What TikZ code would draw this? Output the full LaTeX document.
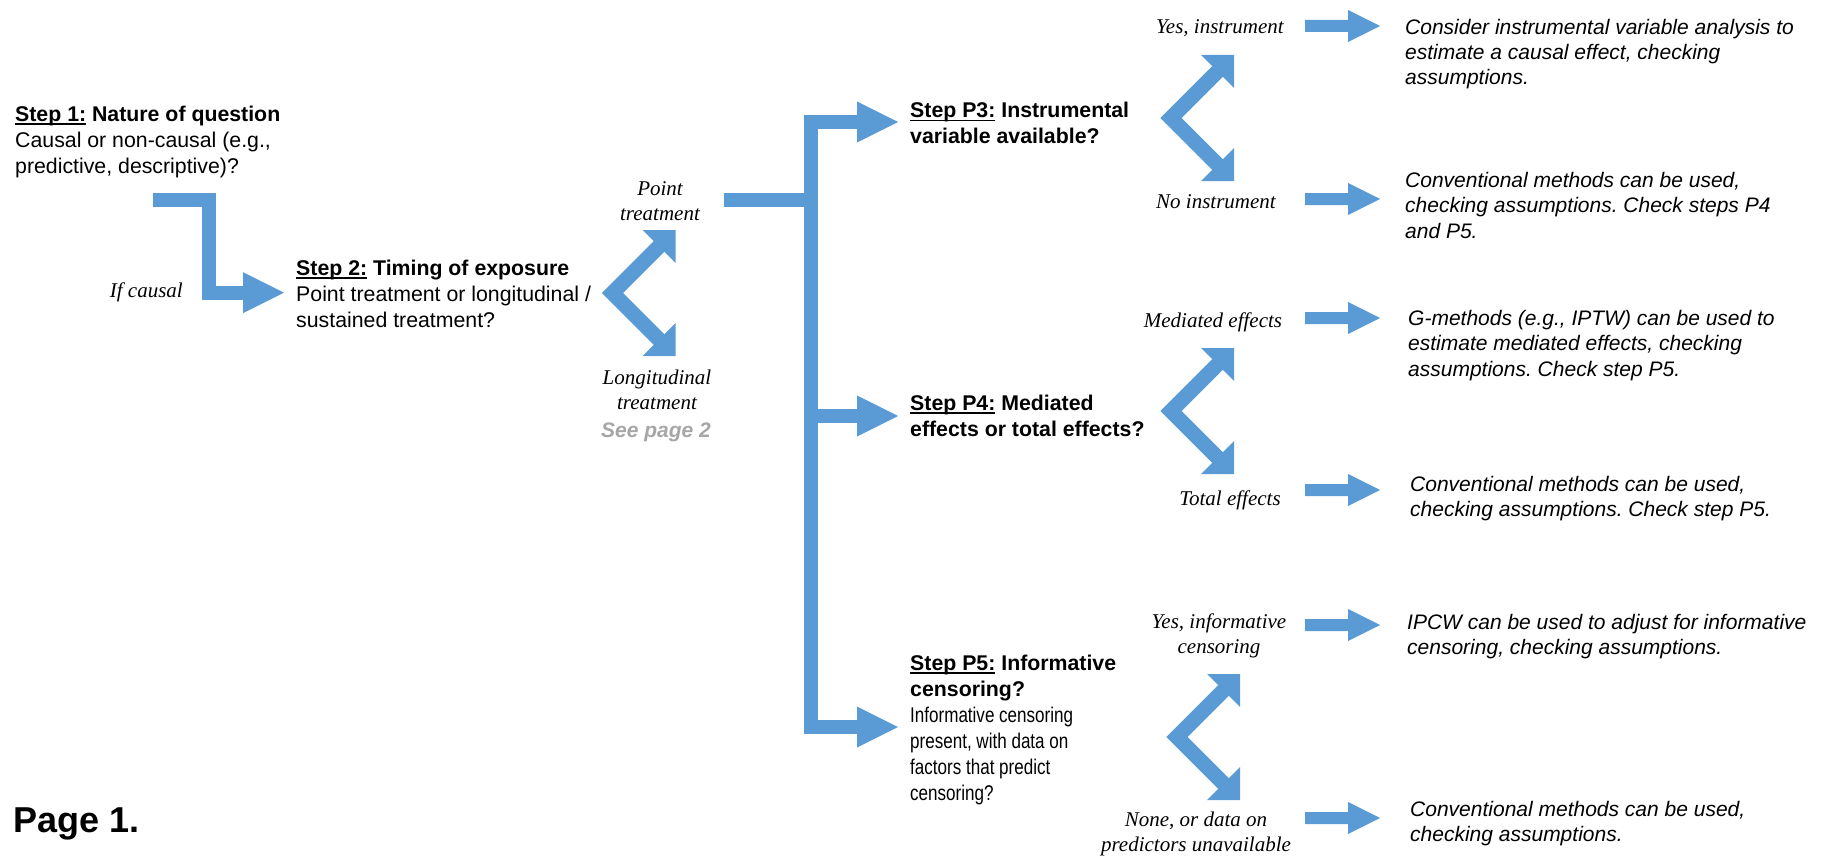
\documentclass[tikz,border=0pt]{standalone}
\usepackage{fontspec}
\setmainfont{Liberation Sans}
\newfontfamily\lblfont{Liberation Serif}
\newfontfamily\narrowfont[FakeStretch=0.8]{Liberation Sans}
\definecolor{arrowblue}{RGB}{91,155,213}
\definecolor{notegray}{RGB}{166,166,166}
% underlined step tag with a rule of fixed thickness
\newcommand\stepmark[1]{\setbox0=\hbox{#1}\rlap{\rule[-3.5pt]{\wd0}{1.3pt}}\box0\relax}

\tikzset{
  % multi-line texts are placed by the baseline of their last line
  body/.style={anchor=base west, inner sep=0pt, align=left,
    font=\fontsize{21.3}{26}\selectfont},
  result/.style={anchor=base west, inner sep=0pt, align=left,
    font=\fontsize{21}{25.5}\selectfont\itshape},
  choice/.style={anchor=base, inner sep=0pt, align=center,
    font=\lblfont\fontsize{21}{25.5}\selectfont\itshape},
  band/.style={draw=arrowblue, line width=14pt, line join=miter, line cap=butt},
  % small block arrow, origin at the tail
  smallarr/.pic={\fill[arrowblue] (0,-6) -- (43,-6) -- (43,-16) -- (75,0)
      -- (43,16) -- (43,6) -- (0,6) -- cycle;},
  % two-way fork: origin at the inner bend, heads at 45 degrees
  fork/.pic={
    \draw[draw=arrowblue, line width=15pt, line join=miter, line cap=butt]
      (48,-48) -- (0,0) -- (48,48);
    \fill[arrowblue] (30,-63) -- (63,-63) -- (63,-30) -- cycle;
    \fill[arrowblue] (30,63) -- (63,63) -- (63,30) -- cycle;},
  % big arrow head, origin at its tip
  bighead/.pic={\fill[arrowblue] (0,0) -- (-41,-20.5) -- (-41,20.5) -- cycle;}
}

\begin{document}
\frenchspacing
\begin{tikzpicture}[x=1pt,y=-1pt]
\useasboundingbox (0,0) rectangle (1831,856);

% ---- step texts ----
\node[body] (s1) at (15,173) {\textbf{\stepmark{Step 1:} Nature of question}\\
  Causal or non-causal (e.g.,\\ predictive, descriptive)?};
\node[body] (s2) at (296,327) {\textbf{\stepmark{Step 2:} Timing of exposure}\\
  Point treatment or longitudinal /\\ sustained treatment?};
\node[body] (p3) at (910,144) {\textbf{\stepmark{Step P3:} Instrumental}\\
  \textbf{variable available?}};
\node[body] (p4) at (910,436) {\textbf{\stepmark{Step P4:} Mediated}\\
  \textbf{effects or total effects?}};
\node[body] (p5) at (910,800) {\textbf{\stepmark{Step P5:} Informative}\\
  \textbf{censoring?}\\ {\narrowfont Informative censoring}\\
  {\narrowfont present, with data on}\\
  {\narrowfont factors that predict}\\ {\narrowfont censoring?}};

% ---- branch labels ----
\node[choice, anchor=base east] (ifc) at (183,297) {If causal};
\node[choice] (pt) at (660,220.5) {Point\\treatment};
\node[choice] (lt) at (657,409.5) {Longitudinal\\treatment};
\node[anchor=base, inner sep=0pt, text=notegray,
  font=\fontsize{21}{25}\selectfont\bfseries\itshape] (see) at (656,437) {See page 2};
\node[choice] (yi) at (1220,34) {Yes, instrument};
\node[choice] (ni) at (1216,208) {No instrument};
\node[choice] (me) at (1213,327) {Mediated effects};
\node[choice] (te) at (1230,505) {Total effects};
\node[choice] (yc) at (1219,653.5) {Yes, informative\\censoring};
\node[choice] (nc) at (1196,851.5) {None, or data on\\predictors unavailable};

% ---- outcomes ----
\node[result] (r1) at (1405,85) {Consider instrumental variable analysis to\\
  estimate a causal effect, checking\\ assumptions.};
\node[result] (r2) at (1405,238) {Conventional methods can be used,\\
  checking assumptions. Check steps P4\\ and P5.};
\node[result] (r3) at (1408,376) {G-methods (e.g., IPTW) can be used to\\
  estimate mediated effects, checking\\ assumptions. Check step P5.};
\node[result] (r4) at (1410,516.5) {Conventional methods can be used,\\
  checking assumptions. Check step P5.};
\node[result] (r5) at (1407,654.5) {IPCW can be used to adjust for informative\\
  censoring, checking assumptions.};
\node[result] (r6) at (1410,841.5) {Conventional methods can be used,\\
  checking assumptions.};

\node[anchor=base west, inner sep=0pt, font=\fontsize{36}{40}\selectfont\bfseries]
  (pg) at (13,832) {Page 1.};

% ---- step 1 to step 2 ----
\coordinate (e0) at (153,199.5);
\coordinate (e1) at (208.5,199.5);
\coordinate (e2) at (208.5,292.7);
\coordinate (e3) at (245,292.7);
\coordinate (e4) at (284,292.7);
\draw[band] (e0) -- (e1) -- (e2) -- (e3);
\pic at (e4) {bighead};

% ---- timing fork ----
\pic at (612.5,293) {fork};

% ---- point treatment trunk ----
\coordinate (pb) at (724,200);
\coordinate (jp) at (811,200);
\coordinate (jt) at (811,122);
\coordinate (jm) at (811,416);
\coordinate (jb) at (811,727);
\coordinate (h3) at (898,122);
\coordinate (h4) at (898,416);
\coordinate (h5) at (898,727);
\draw[band] (pb) -- (jp);
\draw[band] ([xshift=-39pt]h3) -- (jt) -- (jb) -- ([xshift=-39pt]h5);
\draw[band] (jm) -- ([xshift=-39pt]h4);
\pic at (h3) {bighead};
\pic at (h4) {bighead};
\pic at (h5) {bighead};

% ---- decision forks ----
\pic at (1171,118) {fork};
\pic at (1171,411) {fork};
\pic at (1177,737) {fork};

% ---- arrows to outcomes ----
\pic at (1305,26) {smallarr};
\pic at (1305,199) {smallarr};
\pic at (1305,318) {smallarr};
\pic at (1305,490) {smallarr};
\pic at (1305,625) {smallarr};
\pic at (1305,818) {smallarr};
\end{tikzpicture}
\end{document}
